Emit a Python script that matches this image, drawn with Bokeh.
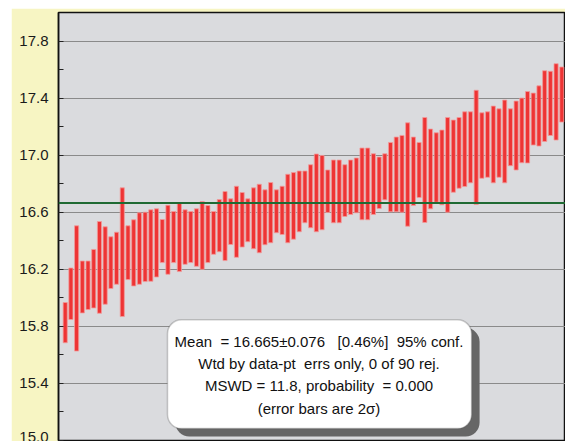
from bokeh.plotting import figure
from bokeh.models import (Range1d, FixedTicker, PrintfTickFormatter, Span,
                          BoxAnnotation, Label, ColumnDataSource)
from bokeh.embed import file_html
from bokeh.resources import INLINE

# upper and lower ends of the 2-sigma error bars (90 analyses; 88 visible)
hi = [15.967, 16.209, 16.505, 16.258, 16.258, 16.339, 16.535, 16.498, 16.428, 16.460,
      16.771, 16.505, 16.547, 16.596, 16.600, 16.617, 16.624, 16.549, 16.649, 16.605,
      16.668, 16.617, 16.605, 16.624, 16.675, 16.647, 16.605, 16.689, 16.745, 16.694,
      16.782, 16.738, 16.694, 16.771, 16.796, 16.757, 16.808, 16.757, 16.782, 16.866,
      16.878, 16.889, 16.889, 16.933, 17.008, 16.998, 16.896, 16.966, 16.966, 16.933,
      16.966, 16.980, 17.050, 17.050, 17.010, 16.987, 17.010, 17.089, 17.127, 17.138,
      17.227, 17.127, 17.089, 17.264, 17.183, 17.157, 17.176, 17.264, 17.246, 17.264,
      17.304, 17.304, 17.455, 17.297, 17.304, 17.344, 17.325, 17.386, 17.325, 17.379,
      17.400, 17.446, 17.435, 17.486, 17.592, 17.588, 17.641, 17.618]
lo = [15.685, 15.848, 15.627, 15.894, 15.918, 15.929, 15.892, 15.955, 16.065, 16.095,
      15.869, 16.128, 16.083, 16.095, 16.114, 16.116, 16.146, 16.247, 16.165, 16.247,
      16.184, 16.235, 16.247, 16.221, 16.200, 16.247, 16.305, 16.323, 16.261, 16.374,
      16.284, 16.356, 16.393, 16.344, 16.316, 16.372, 16.386, 16.456, 16.444, 16.386,
      16.411, 16.463, 16.526, 16.491, 16.463, 16.477, 16.598, 16.526, 16.526, 16.570,
      16.584, 16.596, 16.547, 16.547, 16.584, 16.626, 16.687, 16.603, 16.603, 16.600,
      16.502, 16.647, 16.703, 16.528, 16.624, 16.670, 16.652, 16.600, 16.740, 16.768,
      16.780, 16.806, 16.654, 16.838, 16.845, 16.806, 16.845, 16.806, 16.926, 16.896,
      16.947, 16.945, 17.071, 17.064, 17.096, 17.138, 17.106, 17.232]
idx = list(range(1, len(hi) + 1))
mean_value = 16.665

y_ticks = [15.0, 15.4, 15.8, 16.2, 16.6, 17.0, 17.4, 17.8]
y_minor_ticks = [15.2, 15.6, 16.0, 16.4, 16.8, 17.2, 17.6]

info_lines = [
    "Mean\u00a0 = 16.665\u00b10.076 \u00a0 [0.46%]\u00a0 95% conf.",
    "Wtd by data-pt\u00a0 errs only, 0 of 90 rej.",
    "MSWD = 11.8, probability\u00a0 = 0.000",
    "(error bars are 2\u03c3)",
]

src = ColumnDataSource(dict(x=idx, top=hi, bottom=lo))

p = figure(width=554, height=433, output_backend="svg", toolbar_location=None,
           x_range=Range1d(-0.174, 88.65), y_range=Range1d(15.0, 18.0),
           x_axis_location=None,
           min_border_left=47, min_border_right=0, min_border_top=4, min_border_bottom=1)
p.margin = (8, 0, 0, 11)

p.background_fill_color = "#dadbde"
p.border_fill_color = "#f7f5c3"
p.outline_line_color = "#111111"
p.outline_line_width = 1.5

yax = p.yaxis[0]
yax.ticker = FixedTicker(ticks=y_ticks, minor_ticks=y_minor_ticks)
yax.formatter = PrintfTickFormatter(format="%.1f")
yax.major_tick_in = 5
yax.major_tick_out = 0
yax.minor_tick_in = 5
yax.minor_tick_out = 0
yax.major_tick_line_color = "#222222"
yax.minor_tick_line_color = "#222222"
yax.axis_line_color = "#111111"
yax.axis_line_width = 1.5
yax.major_label_text_font = "Liberation Sans"
yax.major_label_text_font_size = "15px"
yax.major_label_text_color = "#1a1a1a"
yax.major_label_standoff = 10

p.xgrid.visible = False
p.ygrid.grid_line_color = "#8a8a8a"
p.ygrid.grid_line_width = 1.2

p.vbar(x="x", top="top", bottom="bottom", width=0.72, source=src,
       fill_color="#ee3434", line_color="#f29a9a", line_width=0.8)

p.add_layout(Span(location=mean_value, dimension="width",
                  line_color="#1f6a33", line_width=2))

# text box with shadow
p.add_layout(BoxAnnotation(left=20.3, right=73.6, top=15.79, bottom=15.028,
                           fill_color="#666666", fill_alpha=1.0, line_alpha=0,
                           border_radius=14, level="annotation"))
p.add_layout(BoxAnnotation(left=18.92, right=72.2, top=15.846, bottom=15.084,
                           fill_color="white", fill_alpha=1.0,
                           line_color="#555555", line_width=1.5,
                           border_radius=14, level="annotation"))

for txt, yy in zip(info_lines, [15.696, 15.538, 15.386, 15.222]):
    p.add_layout(Label(x=45.46, y=yy, text=txt, text_align="center",
                       text_baseline="middle", text_font="Liberation Sans",
                       text_font_size="15px", text_color="#111111"))

open("out.html", "w").write(file_html(p, INLINE))
